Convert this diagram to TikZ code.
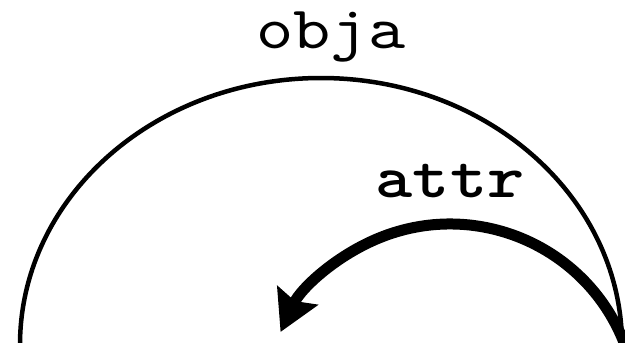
\documentclass[tikz,border=0pt]{standalone}
\usepackage{fontspec}
\newfontfamily\objfont[FakeStretch=1.18]{lmmono10-regular.otf}
\newfontfamily\attrfont[FakeStretch=1.18]{lmmonolt10-bold.otf}
\usetikzlibrary{arrows.meta}

\begin{document}
\begin{tikzpicture}[
    x=1pt, y=-1pt,
    objarc/.style={line width=4.5pt},
    attrarrow/.style={line width=11pt, -{Stealth[length=40pt,width=44pt,inset=6pt]}},
    objlabel/.style={anchor=base, inner sep=0pt, font=\objfont\fontsize{60}{60}\selectfont},
    attrlabel/.style={anchor=base, inner sep=0pt, font=\attrfont\fontsize{60}{60}\selectfont}
]
\useasboundingbox (0,0) rectangle (625,343);

% Object
\draw[objarc] (20,345) arc[start angle=180, end angle=0, x radius=301, y radius=-267];
\node[objlabel] (obja) at (331,48) {obja};

% Attribute
\coordinate (attrstart) at (624.6,344);
\draw[attrarrow] (attrstart) arc[start angle=-21, end angle=-155, radius=187];
\node[attrlabel] (attr) at (450,197) {attr};

\end{tikzpicture}
\end{document}
